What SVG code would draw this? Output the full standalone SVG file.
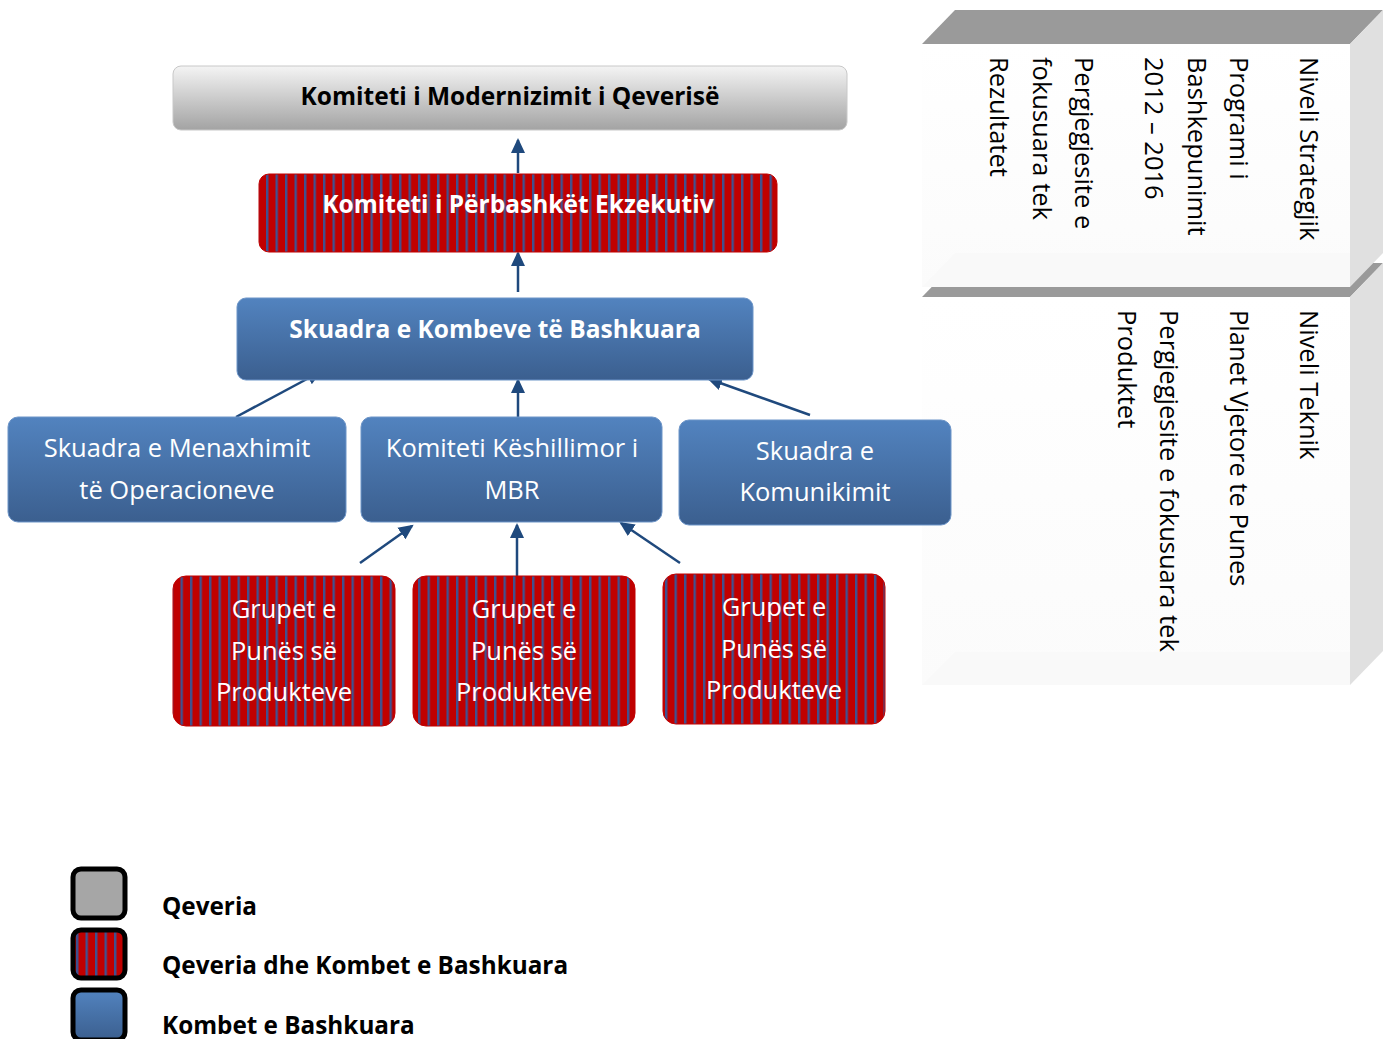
<svg xmlns="http://www.w3.org/2000/svg" width="1392" height="1039" viewBox="0 0 1392 1039">
  <defs>
    <linearGradient id="gGray" x1="0" y1="0" x2="0" y2="1">
      <stop offset="0" stop-color="#f4f4f4"/>
      <stop offset="1" stop-color="#a3a3a3"/>
    </linearGradient>
    <linearGradient id="gBlue" x1="0" y1="0" x2="0" y2="1">
      <stop offset="0" stop-color="#5283bf"/>
      <stop offset="1" stop-color="#3b5f8f"/>
    </linearGradient>
    <linearGradient id="gFront" x1="0" y1="0" x2="0" y2="1">
      <stop offset="0" stop-color="#ffffff"/>
      <stop offset="1" stop-color="#fbfbfb"/>
    </linearGradient>
    <pattern id="pStripe" patternUnits="userSpaceOnUse" width="9.5" height="20">
      <rect width="9.5" height="20" fill="#c00000"/>
      <rect x="0" width="2.4" height="20" fill="#3f5290"/>
    </pattern>
    <marker id="arrow" markerUnits="userSpaceOnUse" markerWidth="16" markerHeight="16" viewBox="0 0 16 16" refX="13" refY="8" orient="auto">
      <path d="M0,1 L15,8 L0,15 z" fill="#1f497d"/>
    </marker>
  </defs>
  <style>
    .gray { fill: url(#gGray); stroke: #c8c8c8; stroke-width: 1; }
    .red { fill: url(#pStripe); stroke: #c00000; stroke-width: 1; }
    .blue { fill: url(#gBlue); stroke: #6d95c8; stroke-width: 1; }
    .t { font-family: "Open Sans", "Liberation Sans", sans-serif; text-anchor: middle; }
    .tb { font-weight: bold; font-size: 24.5px; }
    .tw { fill: #ffffff; }
    .tr { font-size: 25.5px; fill: #ffffff; }
    .conn line { stroke: #1f497d; stroke-width: 2.5; fill: none; marker-end: url(#arrow); }
    .top3d { fill: #9a9a9a; }
    .side3d { fill: #e0e0e0; }
    .front3d { fill: url(#gFront); }
    .bevel { fill: #f9f9f9; }
    .vt { font-family: "Open Sans", "Liberation Sans", sans-serif; font-size: 25.5px; fill: #000000; }
    .leg { fill: #a6a6a6; stroke: #000000; stroke-width: 5; }
    .legt { font-family: "Open Sans", "Liberation Sans", sans-serif; font-weight: bold; font-size: 24.3px; fill: #000000; }
  </style>

  <!-- level panels on the right -->
  <g id="panel-technical">
    <polygon class="top3d" points="922,297 955,263 1383,263 1350,297"/>
    <polygon class="side3d" points="1350,297 1383,263 1383,651 1350,685"/>
    <rect class="front3d" x="922" y="297" width="428" height="388"/>
    <polygon class="bevel" points="922,685 955,652 1350,652 1350,685"/>
    <text class="vt" transform="translate(1300,310) rotate(90)">Niveli Teknik</text>
    <text class="vt" transform="translate(1230,310) rotate(90)">Planet Vjetore te Punes</text>
    <text class="vt" transform="translate(1160,310) rotate(90)">Pergjegjesite e fokusuara tek</text>
    <text class="vt" transform="translate(1118,310) rotate(90)">Produktet</text>
  </g>
  <g id="panel-strategic">
    <polygon class="top3d" points="922,44 955,10 1383,10 1350,44"/>
    <polygon class="side3d" points="1350,44 1383,10 1383,253 1350,287"/>
    <rect class="front3d" x="922" y="44" width="428" height="243"/>
    <polygon class="bevel" points="922,287 955,253 1350,253 1350,287"/>
    <text class="vt" transform="translate(1300,57) rotate(90)">Niveli Strategjik</text>
    <text class="vt" transform="translate(1230,57) rotate(90)">Programi i</text>
    <text class="vt" transform="translate(1188,57) rotate(90)">Bashkepunimit</text>
    <text class="vt" transform="translate(1145,57) rotate(90)">2012 – 2016</text>
    <text class="vt" transform="translate(1075,57) rotate(90)">Pergjegjesite e</text>
    <text class="vt" transform="translate(1033,57) rotate(90)">fokusuara tek</text>
    <text class="vt" transform="translate(990,57) rotate(90)">Rezultatet</text>
  </g>

  <!-- connectors -->
  <g id="connectors" class="conn">
    <line x1="518" y1="173" x2="518" y2="140"/>
    <line x1="518" y1="292" x2="518" y2="253"/>
    <line x1="236" y1="417" x2="320" y2="372"/>
    <line x1="518" y1="417" x2="518" y2="380"/>
    <line x1="810" y1="415" x2="709" y2="379"/>
    <line x1="360" y1="563" x2="412" y2="526"/>
    <line x1="517" y1="576" x2="517" y2="525"/>
    <line x1="680" y1="563" x2="621" y2="523"/>
  </g>

  <g id="komiteti-modernizimit">
    <rect class="gray" x="173" y="66" width="674" height="64" rx="8"/>
    <text class="t tb" x="510" y="105">Komiteti i Modernizimit i Qeverisë</text>
  </g>

  <g id="komiteti-ekzekutiv">
    <rect class="red" x="259" y="174" width="518" height="78" rx="10"/>
    <text class="t tb tw" x="518" y="213">Komiteti i Përbashkët Ekzekutiv</text>
  </g>

  <g id="skuadra-kombeve">
    <rect class="blue" x="237" y="298" width="516" height="82" rx="9"/>
    <text class="t tb tw" x="495" y="338">Skuadra e Kombeve të Bashkuara</text>
  </g>

  <g id="skuadra-menaxhimit">
    <rect class="blue" x="8" y="417" width="338" height="105" rx="10"/>
    <text class="t tr" x="177" y="457">Skuadra e Menaxhimit</text>
    <text class="t tr" x="177" y="499">të Operacioneve</text>
  </g>

  <g id="komiteti-keshillimor">
    <rect class="blue" x="361" y="417" width="301" height="105" rx="10"/>
    <text class="t tr" x="512" y="457">Komiteti Këshillimor i</text>
    <text class="t tr" x="512" y="499">MBR</text>
  </g>

  <g id="skuadra-komunikimit">
    <rect class="blue" x="679" y="420" width="272" height="105" rx="10"/>
    <text class="t tr" x="815" y="460">Skuadra e</text>
    <text class="t tr" x="815" y="501">Komunikimit</text>
  </g>

  <g id="grupet-1">
    <rect class="red" x="173" y="576" width="222" height="150" rx="13"/>
    <text class="t tr" x="284" y="618">Grupet e</text>
    <text class="t tr" x="284" y="660">Punës së</text>
    <text class="t tr" x="284" y="701">Produkteve</text>
  </g>

  <g id="grupet-2">
    <rect class="red" x="413" y="576" width="222" height="150" rx="13"/>
    <text class="t tr" x="524" y="618">Grupet e</text>
    <text class="t tr" x="524" y="660">Punës së</text>
    <text class="t tr" x="524" y="701">Produkteve</text>
  </g>

  <g id="grupet-3">
    <rect class="red" x="663" y="574" width="222" height="150" rx="13"/>
    <text class="t tr" x="774" y="616">Grupet e</text>
    <text class="t tr" x="774" y="658">Punës së</text>
    <text class="t tr" x="774" y="699">Produkteve</text>
  </g>

  <!-- legend -->
  <g id="legend">
    <rect class="leg" x="73" y="869" width="52" height="49" rx="8"/>
    <rect class="leg" x="73" y="930" width="52" height="48" rx="8" style="fill:url(#pStripe)"/>
    <rect class="leg" x="73" y="990" width="52" height="50" rx="8" style="fill:url(#gBlue)"/>
    <text class="legt" x="162" y="915">Qeveria</text>
    <text class="legt" x="162" y="974">Qeveria dhe Kombet e Bashkuara</text>
    <text class="legt" x="162" y="1034">Kombet e Bashkuara</text>
  </g>
</svg>
